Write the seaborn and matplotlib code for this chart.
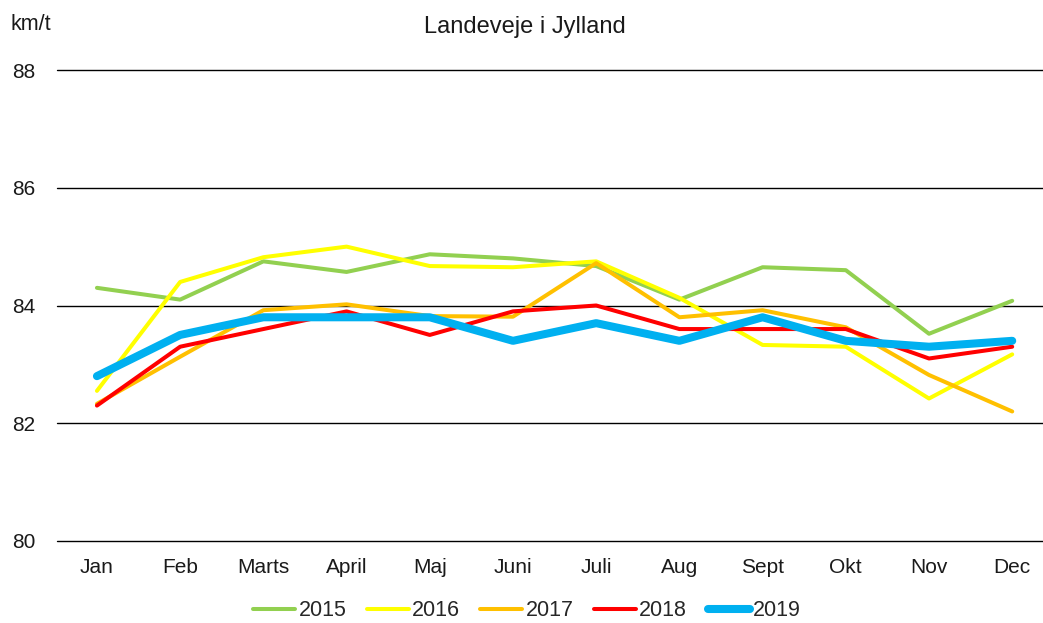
import pandas as pd
import seaborn as sns
import matplotlib.pyplot as plt

# months and average speeds (km/t) per year
months = ["Jan", "Feb", "Marts", "April", "Maj", "Juni",
          "Juli", "Aug", "Sept", "Okt", "Nov", "Dec"]
y2015 = [84.3, 84.1, 84.75, 84.57, 84.87, 84.8, 84.67, 84.1, 84.65, 84.6, 83.52, 84.08]
y2016 = [82.55, 84.4, 84.82, 85.0, 84.67, 84.65, 84.75, 84.13, 83.33, 83.3, 82.42, 83.17]
y2017 = [82.33, 83.13, 83.92, 84.02, 83.82, 83.81, 84.72, 83.8, 83.92, 83.63, 82.82, 82.2]
y2018 = [82.3, 83.3, 83.6, 83.9, 83.5, 83.9, 84.0, 83.6, 83.6, 83.6, 83.1, 83.3]
y2019 = [82.8, 83.5, 83.8, 83.8, 83.8, 83.4, 83.7, 83.4, 83.8, 83.4, 83.3, 83.4]

years = ["2015", "2016", "2017", "2018", "2019"]
series = [y2015, y2016, y2017, y2018, y2019]
colors = ["#92D050", "#FFFF00", "#FFC000", "#FF0000", "#00B0F0"]
widths = [2.9, 2.9, 2.9, 2.9, 5.8]

rows = []
for yr, vals in zip(years, series):
    for m, v in zip(months, vals):
        rows.append({"month": m, "speed": v, "year": yr})
df = pd.DataFrame(rows)

sns.set_style("white")
plt.rcParams["font.family"] = ["Liberation Sans", "DejaVu Sans"]

fig = plt.figure(figsize=(10.43, 6.23), dpi=100)
ax = fig.add_axes([57 / 1043, 1 - 541 / 623, 1 - 57 / 1043, (541 - 70) / 623])

for yr, col, lw in zip(years, colors, widths):
    sns.lineplot(data=df[df["year"] == yr], x="month", y="speed", sort=False,
                 color=col, linewidth=lw, label=yr, ax=ax)

ax.set_xlim(-0.48, 11.37)
ax.set_ylim(80, 88)
ax.set_yticks([80, 82, 84, 86, 88])
ax.grid(axis="y", color="black", linewidth=1.0)
for gl in ax.yaxis.get_gridlines():
    gl.set_clip_on(False)
ax.set_axisbelow(True)
for s in ax.spines.values():
    s.set_visible(False)
ax.tick_params(axis="y", length=0, pad=15.5, labelsize=15, labelcolor="#1a1a1a")
ax.tick_params(axis="x", length=0, pad=12, labelsize=15, labelcolor="#1a1a1a")
ax.set_xlabel("")
ax.set_ylabel("")

fig.text(10 / 1043, 1 - 25 / 623, "km/t", fontsize=15.5, va="center", ha="left", color="#1a1a1a")
fig.text(525 / 1043, 1 - 27 / 623, "Landeveje i Jylland", fontsize=17, va="center", ha="center",
         color="#1a1a1a")

ax.legend(loc="center", bbox_to_anchor=(527 / 1043, 1 - 611 / 623),
          bbox_transform=fig.transFigure, ncol=5, frameon=False,
          fontsize=15.5, handlelength=1.95, handletextpad=0.15, columnspacing=0.95)

fig.savefig("out.png", dpi=100)
